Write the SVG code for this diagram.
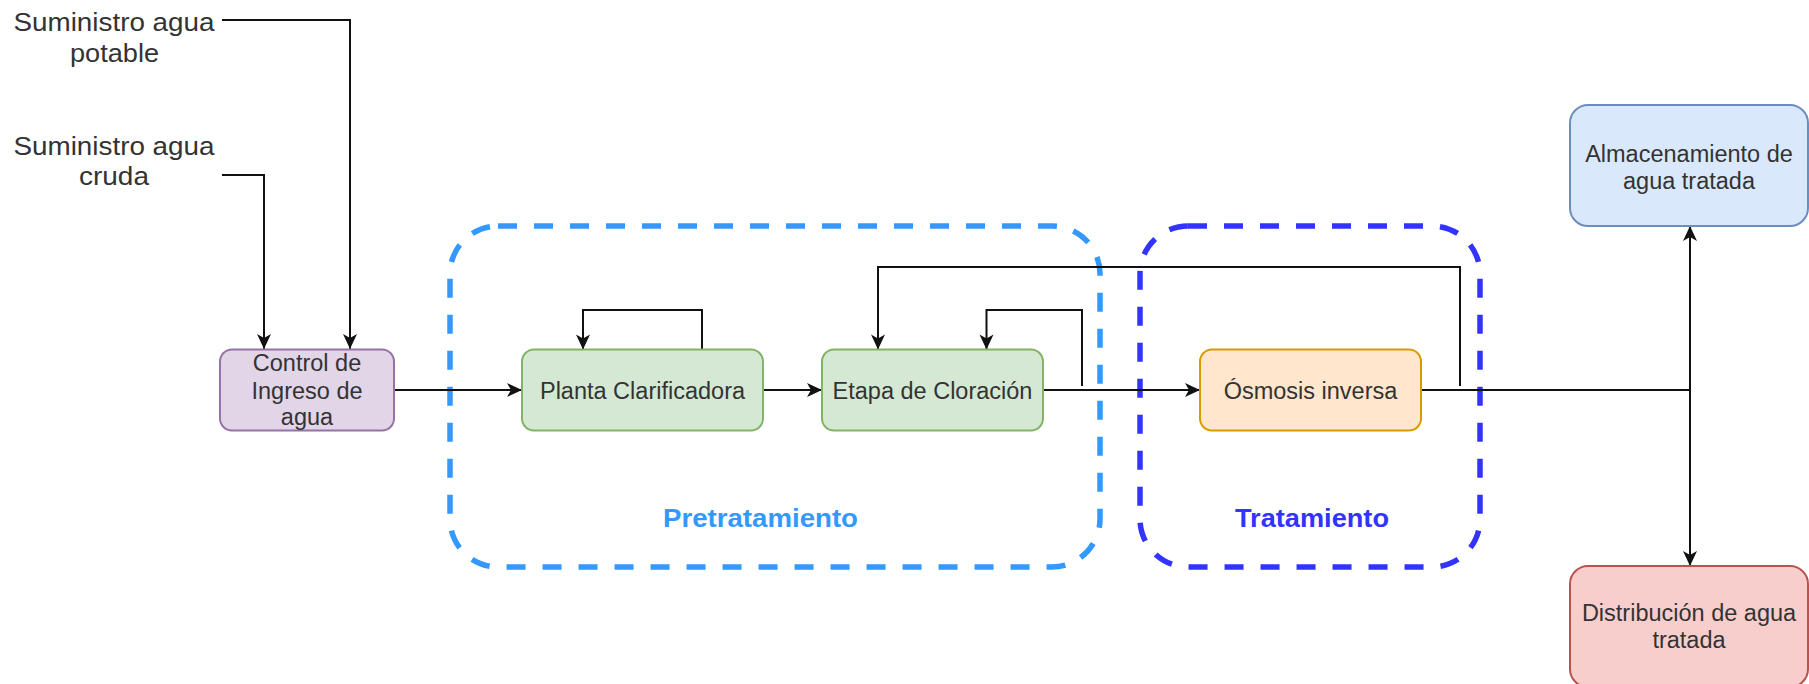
<svg xmlns="http://www.w3.org/2000/svg" width="1809" height="684" viewBox="0 0 1809 684">
  <style>
    .lbl { font-family: "Liberation Sans", Arial, sans-serif; fill: #333333; text-anchor: middle; }
    .node-text { font-size: 23.5px; }
    .sup-text { font-size: 25px; }
    .grp-text { font-size: 26px; font-weight: bold; }
    .node { stroke-width: 2; }
    .grp { fill: none; stroke-width: 5.5; stroke-dasharray: 19 17; }
    .conn { fill: none; stroke: #111111; stroke-width: 2; }
  </style>
  <defs>
    <marker id="arrow" markerUnits="userSpaceOnUse" markerWidth="18" markerHeight="18" viewBox="-1 -9 18 18" refX="15" refY="0" orient="auto">
      <path d="M 0 -7 L 15 0 L 0 7 L 4 0 Z" fill="#111111"/>
    </marker>
  </defs>

  <rect width="1809" height="684" fill="#ffffff"/>

  <!-- Group containers -->
  <g id="grp-pretratamiento">
    <rect class="grp" x="450" y="226" width="650" height="341" rx="48" ry="48" stroke="#3399FF"/>
    <text class="lbl grp-text" x="760.5" y="526.5" fill="#3399FF" style="fill:#3399FF" textLength="195" lengthAdjust="spacingAndGlyphs">Pretratamiento</text>
  </g>
  <g id="grp-tratamiento">
    <rect class="grp" x="1140" y="226" width="340" height="341" rx="48" ry="48" stroke="#3333FF"/>
    <text class="lbl grp-text" x="1312" y="526.5" style="fill:#3333FF" textLength="154" lengthAdjust="spacingAndGlyphs">Tratamiento</text>
  </g>

  <!-- Connectors -->
  <g id="connectors">
    <path class="conn" d="M 222 20 L 350 20 L 350 349" marker-end="url(#arrow)"/>
    <path class="conn" d="M 222 175 L 264 175 L 264 349" marker-end="url(#arrow)"/>
    <path class="conn" d="M 394 390 L 522 390" marker-end="url(#arrow)"/>
    <path class="conn" d="M 763 390 L 822 390" marker-end="url(#arrow)"/>
    <path class="conn" d="M 1043 390 L 1200 390" marker-end="url(#arrow)"/>
    <path class="conn" d="M 702 349.5 L 702 310 L 583 310 L 583 349.5" marker-end="url(#arrow)"/>
    <path class="conn" d="M 1082 386 L 1082 310 L 986.5 310 L 986.5 349.5" marker-end="url(#arrow)"/>
    <path class="conn" d="M 1460 386 L 1460 267 L 878 267 L 878 349.5" marker-end="url(#arrow)"/>
    <path class="conn" d="M 1421 390 L 1690 390"/>
    <path class="conn" d="M 1690 390 L 1690 226" marker-end="url(#arrow)"/>
    <path class="conn" d="M 1690 390 L 1690 566" marker-end="url(#arrow)"/>
  </g>

  <!-- Source labels -->
  <g id="src-potable">
    <text class="lbl sup-text" x="114" y="30.5" textLength="201" lengthAdjust="spacingAndGlyphs">Suministro agua</text>
    <text class="lbl sup-text" x="114.5" y="61.5" textLength="89" lengthAdjust="spacingAndGlyphs">potable</text>
  </g>
  <g id="src-cruda">
    <text class="lbl sup-text" x="114" y="155" textLength="201" lengthAdjust="spacingAndGlyphs">Suministro agua</text>
    <text class="lbl sup-text" x="114" y="185" textLength="70" lengthAdjust="spacingAndGlyphs">cruda</text>
  </g>

  <!-- Nodes -->
  <g id="control-ingreso">
    <rect class="node" x="220" y="349.5" width="174" height="81" rx="12" ry="12" fill="#E1D5E7" stroke="#9673A6"/>
    <text class="lbl node-text" x="307" y="371">Control de</text>
    <text class="lbl node-text" x="307" y="398.5">Ingreso de</text>
    <text class="lbl node-text" x="307" y="424.5">agua</text>
  </g>
  <g id="planta-clarificadora">
    <rect class="node" x="522" y="349.5" width="241" height="81" rx="12" ry="12" fill="#D5E8D4" stroke="#82B366"/>
    <text class="lbl node-text" x="642.5" y="398.5">Planta Clarificadora</text>
  </g>
  <g id="etapa-cloracion">
    <rect class="node" x="822" y="349.5" width="221" height="81" rx="12" ry="12" fill="#D5E8D4" stroke="#82B366"/>
    <text class="lbl node-text" x="932.5" y="398.5">Etapa de Cloración</text>
  </g>
  <g id="osmosis-inversa">
    <rect class="node" x="1200" y="349.5" width="221" height="81" rx="12" ry="12" fill="#FFE6CC" stroke="#D79B00"/>
    <text class="lbl node-text" x="1310.5" y="398.5">Ósmosis inversa</text>
  </g>
  <g id="almacenamiento">
    <rect class="node" x="1570" y="105" width="238" height="121" rx="18" ry="18" fill="#DAE8FC" stroke="#6C8EBF"/>
    <text class="lbl node-text" x="1689" y="162">Almacenamiento de</text>
    <text class="lbl node-text" x="1689" y="189">agua tratada</text>
  </g>
  <g id="distribucion">
    <rect class="node" x="1570" y="566" width="238" height="121" rx="18" ry="18" fill="#F8CECC" stroke="#B85450"/>
    <text class="lbl node-text" x="1689" y="621">Distribución de agua</text>
    <text class="lbl node-text" x="1689" y="648">tratada</text>
  </g>
</svg>
